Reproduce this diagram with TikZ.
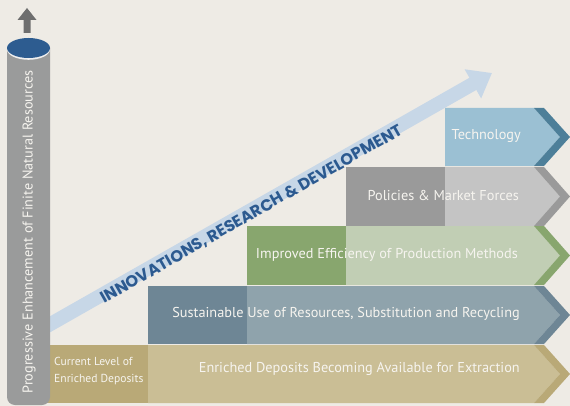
\documentclass[tikz,border=0pt]{standalone}
\usepackage{fontspec}
\setmainfont{PT Sans}
\newfontfamily\arrowfont{Poppins}
\usetikzlibrary{arrows.meta}
\definecolor{bg}{HTML}{EEEBE5}
\definecolor{tanD}{HTML}{B9A977}
\definecolor{tanL}{HTML}{CABE95}
\definecolor{bluD}{HTML}{6E8695}
\definecolor{bluL}{HTML}{8FA3AC}
\definecolor{grnD}{HTML}{88A66E}
\definecolor{grnL}{HTML}{C1CEB4}
\definecolor{gryD}{HTML}{9A9A9A}
\definecolor{gryL}{HTML}{C4C4C4}
\definecolor{tecL}{HTML}{9BC0D3}
\definecolor{tecD}{HTML}{4D7F99}
\definecolor{bigarrow}{HTML}{C7D7E7}
\definecolor{txtblue}{HTML}{2C5A90}
\definecolor{cyl}{HTML}{9A9B9B}
\definecolor{cyltop}{HTML}{2D5C90}
\definecolor{uparrow}{HTML}{6E6E6E}
\definecolor{lbl}{HTML}{F6F4EF}
\tikzset{
  bartext/.style={text=lbl, font=\fontsize{14.3}{16}\selectfont, inner sep=0pt, anchor=east},
}
\begin{document}
\begin{tikzpicture}[x=1pt,y=-1pt]
\fill[bg] (0,0) rectangle (570,406);
\useasboundingbox (0,0) rectangle (570,406);
% big arrow
\coordinate (tail) at (40,330);
\coordinate (tip) at (492,73);
\draw[bigarrow, line width=14pt, -{Triangle[width=32pt,length=22pt]}] (tail) -- (tip);
% bars: technology
\fill[tecL] (445,108) -- (534,108) -- (560,137) -- (534,166) -- (445,166) -- cycle;
\fill[tecD] (534,108) -- (544,108) -- (570,137) -- (544,166) -- (534,166) -- (560,137) -- cycle;
% policies
\fill[gryD] (346,167) rectangle (445,226);
\fill[gryL] (445,167) -- (534,167) -- (560,196.5) -- (534,226) -- (445,226) -- cycle;
\fill[gryD] (534,167) -- (544,167) -- (570,196.5) -- (544,226) -- (534,226) -- (560,196.5) -- cycle;
% green
\fill[grnD] (247,226) rectangle (346,285);
\fill[grnL] (346,226) -- (534,226) -- (560,255.5) -- (534,285) -- (346,285) -- cycle;
\fill[grnD] (534,226) -- (544,226) -- (570,255.5) -- (544,285) -- (534,285) -- (560,255.5) -- cycle;
% blue-gray
\fill[bluD] (148,286) rectangle (247,344);
\fill[bluL] (247,286) -- (534,286) -- (560,315) -- (534,344) -- (247,344) -- cycle;
\fill[bluD] (534,286) -- (544,286) -- (570,315) -- (544,344) -- (534,344) -- (560,315) -- cycle;
% tan
\fill[tanD] (45,345) rectangle (148,403);
\fill[tanL] (148,345) -- (534,345) -- (560,374) -- (534,403) -- (148,403) -- cycle;
\fill[tanD] (534,345) -- (544,345) -- (570,374) -- (544,403) -- (534,403) -- (560,374) -- cycle;
% texts
\node[bartext] (t1) at (521,136) {Technology};
\node[bartext] (t2) at (519,195.5) {Policies \& Market Forces};
\node[bartext] (t3) at (518,254.5) {Improved Efficiency of Production Methods};
\node[bartext] (t4) at (520,314) {Sustainable Use of Resources, Substitution and Recycling};
\node[bartext] (t5) at (520,369) {Enriched Deposits Becoming Available for Extraction};
\node[text=lbl, font=\fontsize{11.6}{17}\selectfont, inner sep=0pt, anchor=west, align=left] (cur) at (54,371.5) {Current Level of\\Enriched Deposits};
% arrow label
\node[text=txtblue, font=\arrowfont\bfseries\fontsize{16.2}{18}\selectfont, rotate=29.6, inner sep=0pt] (ird) at (252,214.5) {INNOVATIONS, RESEARCH \& DEVELOPMENT};
% cylinder
\fill[cyl] (7,48) [rounded corners=8pt] -- (7,405) -- (50,405) [sharp corners] -- (50,48) -- cycle;
\fill[white!85!cyl] (28.5,49.3) ellipse [x radius=21.5pt, y radius=10.5pt];
\fill[cyltop] (28.5,48) ellipse [x radius=21.5pt, y radius=10pt];
\node[text=lbl, font=\fontsize{14.2}{16}\selectfont, rotate=90, inner sep=0pt] (cyltext) at (29,232) {Progressive Enhancement of Finite Natural Resources};
% up arrow
\fill[uparrow] (27,8) -- (36.5,20) -- (30.5,20) -- (30.5,33) -- (23.5,33) -- (23.5,20) -- (17.5,20) -- cycle;
\end{tikzpicture}
\end{document}
